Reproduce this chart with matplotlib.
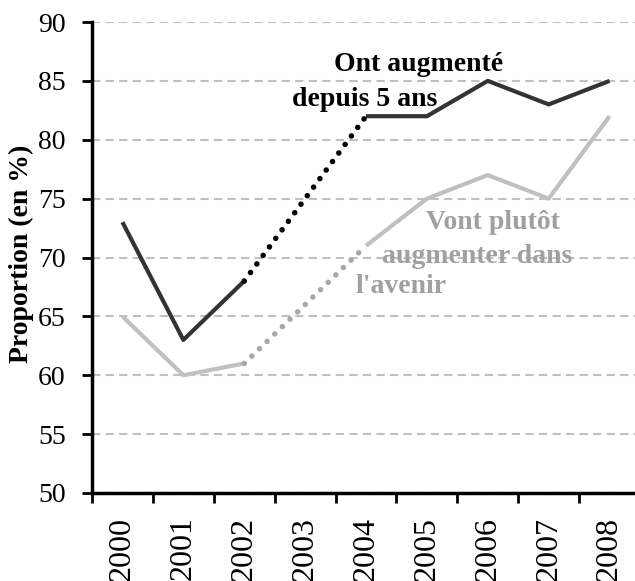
import numpy as np
import matplotlib
matplotlib.use("Agg")
import matplotlib.pyplot as plt

# === DATEN ===
years = ["2000", "2001", "2002", "2003", "2004", "2005", "2006", "2007", "2008"]
passe = [73, 63, 68, None, 82, 82, 85, 83, 85]      # Ont augmenté depuis 5 ans
avenir = [65, 60, 61, None, 71, 75, 77, 75, 82]     # Vont plutôt augmenter dans l'avenir

plt.rcParams["font.family"] = ["Liberation Serif", "DejaVu Serif"]

x = np.arange(len(years))

def segments(vals):
    v = np.array([np.nan if a is None else a for a in vals], dtype=float)
    solid_a = (x[:3], v[:3])
    dotted = (x[[2, 4]], v[[2, 4]])
    solid_b = (x[4:], v[4:])
    return solid_a, dotted, solid_b

fig = plt.figure(figsize=(6.35, 5.81), dpi=100)
ax = fig.add_axes([92 / 635, 88 / 581, 548 / 635, 471 / 581])

# === LINIEN ===
for vals, col, dotcol in [(avenir, "#c0c0c0", "#a8a8a8"), (passe, "#333333", "#000000")]:
    a, d, b = segments(vals)
    ax.plot(*a, color=col, lw=3, solid_capstyle="butt", zorder=3)
    ax.plot(*b, color=col, lw=3, solid_capstyle="butt", zorder=3)
    ax.plot(*d, color=dotcol, lw=4, linestyle=(0, (0.01, 1.9)),
            dash_capstyle="round", zorder=3)

# === ACHSEN ===
ax.set_xlim(-0.5, 8.5)
ax.set_ylim(50, 90)
ax.set_yticks(np.arange(50, 91, 5))
ax.yaxis.grid(True, color="#c0c0c0", linestyle=(0, (4, 2.5)), lw=1.5)
ax.set_axisbelow(True)

ax.set_xticks(np.arange(-0.5, 8.6, 1))
ax.set_xticklabels([])
ax.set_xticks(x, minor=True)
ax.set_xticklabels(years, minor=True, rotation=90, fontsize=23, va="top")
ax.tick_params(axis="x", which="minor", length=0, pad=17)
ax.tick_params(axis="x", which="major", length=7, width=2, direction="out")
ax.tick_params(axis="y", length=7, width=2, labelsize=20, pad=12)

for s in ["top", "right"]:
    ax.spines[s].set_visible(False)
for s in ["left", "bottom"]:
    ax.spines[s].set_linewidth(2.5)

ax.set_ylabel("Proportion (en %)", fontsize=20, fontweight="bold")
ax.yaxis.set_label_coords(-0.106, 0.507)

# === BESCHRIFTUNGEN ===
ax.text(4.87, 86.35, "Ont augmenté", fontsize=20, fontweight="bold",
        ha="center", va="center", color="black")
ax.text(3.98, 83.4, "depuis 5 ans", fontsize=20, fontweight="bold",
        ha="center", va="center", color="black")
gris = "#a0a0a0"
ax.text(6.08, 73.0, "Vont plutôt", fontsize=20, fontweight="bold",
        ha="center", va="center", color=gris)
ax.text(5.82, 70.1, "augmenter dans", fontsize=20, fontweight="bold",
        ha="center", va="center", color=gris)
ax.text(4.57, 67.5, "l'avenir", fontsize=20, fontweight="bold",
        ha="center", va="center", color=gris)

fig.savefig("out.png", dpi=100)
